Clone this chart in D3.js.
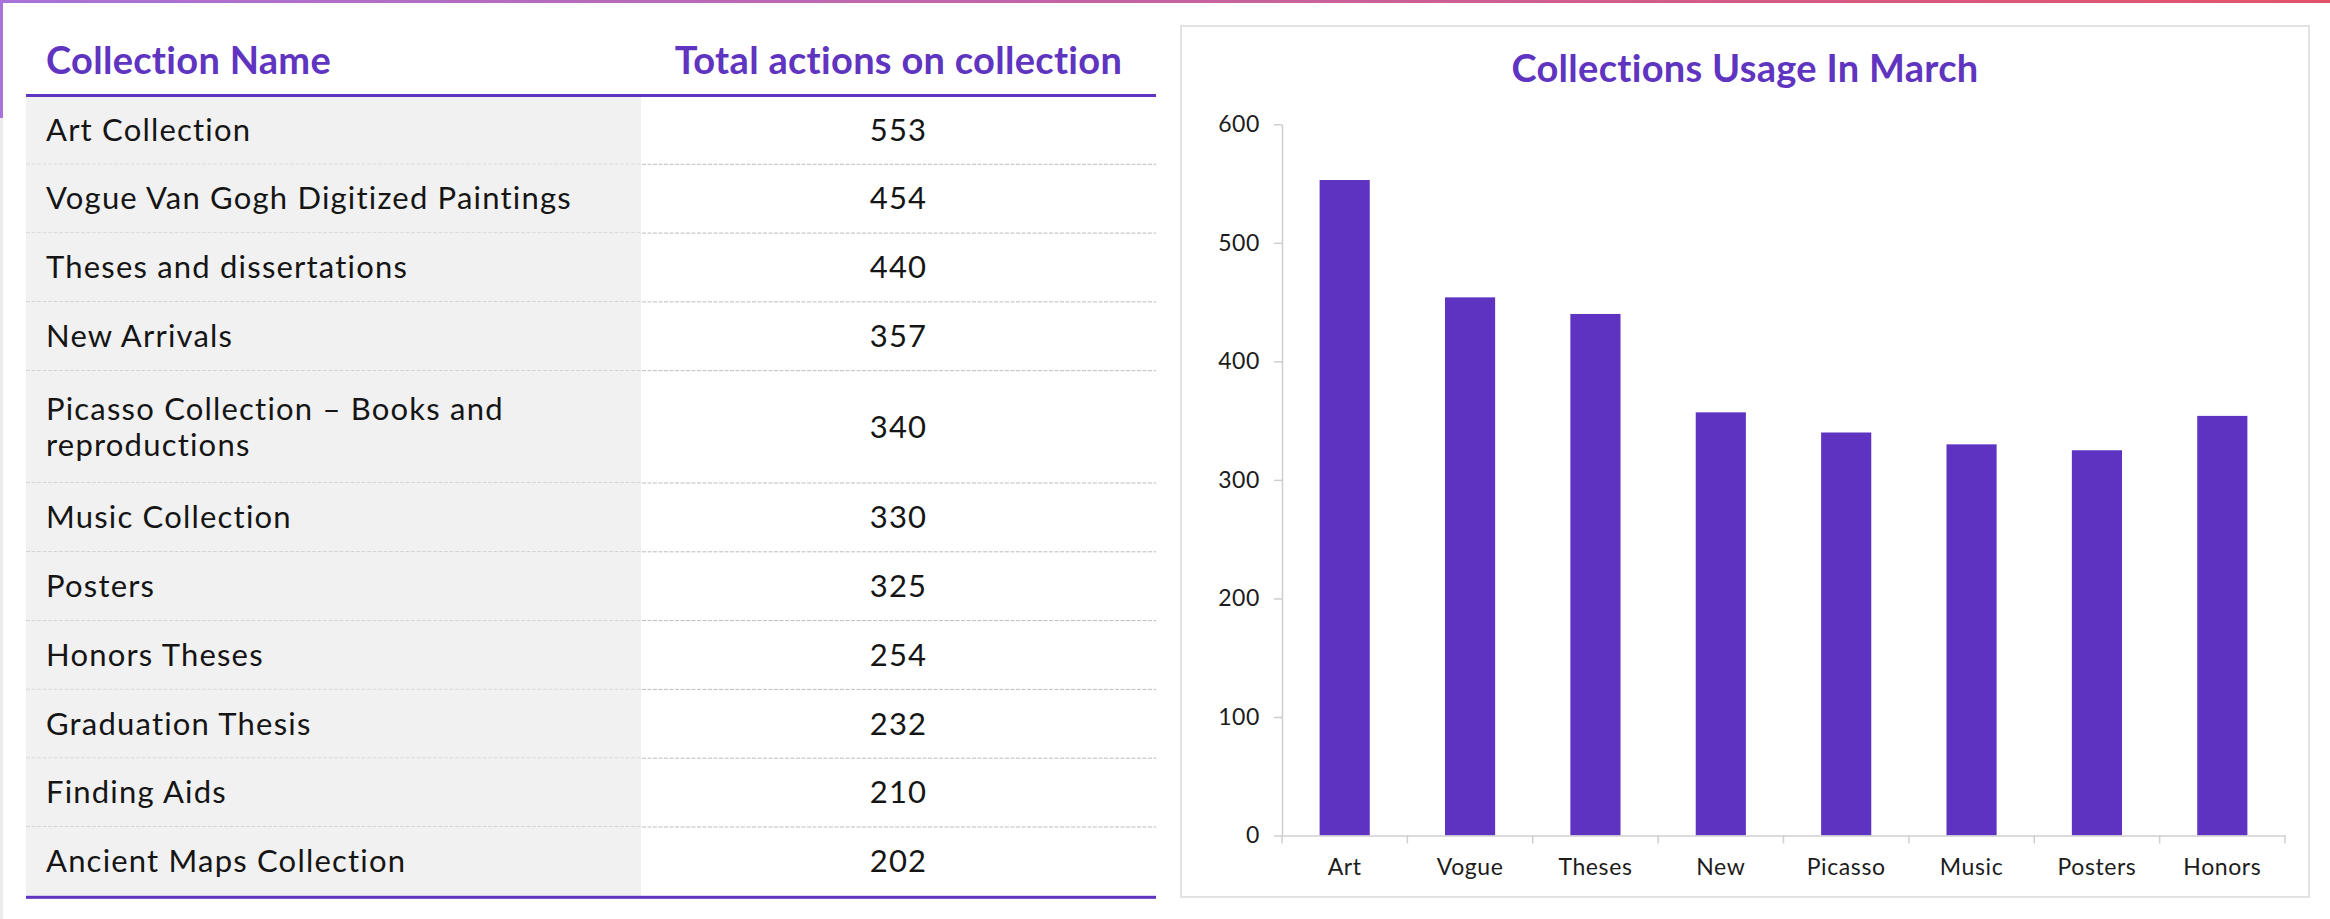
<!DOCTYPE html>
<html>
<head>
<meta charset="utf-8">
<title>Collections Usage In March</title>
<script src="https://cdn.jsdelivr.net/npm/d3@7"></script>
<style>
    body { margin: 0; background: #fff; overflow: hidden; }
    svg { display: block; font-family: Lato, "Noto Sans", sans-serif; font-variant-ligatures: none; }
    .head { fill: #5f34c0; font-weight: 700; font-size: 38px; letter-spacing: 0.3px; }
    .cell { fill: #151515; font-size: 31px; letter-spacing: 1.2px; }
    .chartTitle { fill: #5f34c0; font-weight: 700; font-size: 38px; letter-spacing: 0.3px; }
    .axis text { fill: #1c1c1c; font-size: 23px; letter-spacing: 0.6px; font-family: Lato, "Noto Sans", sans-serif; }
    .axis path, .axis line { stroke: #cfcfcf; stroke-width: 1.5; }
</style>
</head>
<body>
<script>
(function () {

    //table data
    var tableHeaders = ["Collection Name", "Total actions on collection"];
    var collectionNames = [
        "Art Collection",
        "Vogue Van Gogh Digitized Paintings",
        "Theses and dissertations",
        "New Arrivals",
        "Picasso Collection \u2013 Books and reproductions",
        "Music Collection",
        "Posters",
        "Honors Theses",
        "Graduation Thesis",
        "Finding Aids",
        "Ancient Maps Collection"
    ];
    var collectionActions = [553, 454, 440, 357, 340, 330, 325, 254, 232, 210, 202];

    //chart data
    var chartTitleText = "Collections Usage In March";
    var chartLabels = ["Art", "Vogue", "Theses", "New", "Picasso", "Music", "Posters", "Honors"];
    var chartValues = [553, 454, 440, 357, 340, 330, 325, 354];
    var yTickValues = [0, 100, 200, 300, 400, 500, 600];

    var purple = "#5f34c0";

    window.onload = setPage();

    function setPage() {
        var width = 2330,
            height = 919;

        var svg = d3.select("body")
            .append("svg")
            .attr("width", width)
            .attr("height", height);

        //gradient strip along the top
        var grad = svg.append("defs")
            .append("linearGradient")
            .attr("id", "topGrad")
            .attr("x1", "0%").attr("x2", "100%");
        grad.append("stop").attr("offset", "0%").attr("stop-color", "#a872d8");
        grad.append("stop").attr("offset", "100%").attr("stop-color", "#e2536a");

        //left card edge
        svg.append("rect").attr("x", 0).attr("y", 118).attr("width", 3).attr("height", height - 118).attr("fill", "#ebebeb");
        svg.append("rect").attr("x", 0).attr("y", 0).attr("width", 3).attr("height", 118).attr("fill", "#a872d8");
        svg.append("rect").attr("x", 0).attr("y", 0).attr("width", width).attr("height", 3).attr("fill", "url(#topGrad)");

        setTable(svg);
        setChart(svg);
    };

    //wrap a text element into tspans, returns the number of lines
    function wrapText(textEl, str, maxWidth, lineGap) {
        var words = str.split(" "),
            line = [],
            lines = 0,
            tspan = textEl.append("tspan").attr("x", textEl.attr("x")).attr("dy", 0);
        words.forEach(function (w) {
            line.push(w);
            tspan.text(line.join(" "));
            if (tspan.node().getComputedTextLength() > maxWidth && line.length > 1) {
                line.pop();
                tspan.text(line.join(" "));
                line = [w];
                lines++;
                tspan = textEl.append("tspan").attr("x", textEl.attr("x")).attr("dy", lineGap).text(w);
            }
        });
        return lines + 1;
    };

    function setTable(svg) {
        var left = 26,
            nameRight = 641,
            right = 1156,
            top = 95.5,
            textX = 46,
            numCenter = (nameRight + right) / 2,
            rowPad = 25.3,
            lineH = 43.5,
            lineGap = 36,
            fontSize = 30;

        var rowData = collectionNames.map(function (n, i) {
            return { name: n, value: collectionActions[i] };
        });

        var rows = svg.append("g")
            .attr("class", "rows")
            .selectAll(".row")
            .data(rowData)
            .enter()
            .append("g")
            .attr("class", "row");

        var bg = rows.append("rect")
            .attr("x", left)
            .attr("width", nameRight - left)
            .attr("fill", "#f1f1f1");

        var names = rows.append("text")
            .attr("class", "cell")
            .attr("x", textX);

        names.each(function (d) {
            d.lines = wrapText(d3.select(this), d.name, nameRight - textX - 20, lineGap);
        });

        //stack rows by their line count
        var y = top;
        rows.each(function (d) {
            d.y0 = y;
            d.h = rowPad + lineH * d.lines;
            y += d.h;
        });
        var bottom = y;

        rows.attr("transform", function (d) { return "translate(0," + d.y0 + ")"; });
        bg.attr("height", function (d) { return d.h; });

        names.attr("y", function (d) {
            return d.h / 2 - (d.lines - 1) * lineGap / 2 + fontSize * 0.36;
        });

        rows.append("text")
            .attr("class", "cell")
            .attr("x", numCenter)
            .attr("y", function (d) { return d.h / 2 + fontSize * 0.36; })
            .attr("text-anchor", "middle")
            .text(function (d) { return d.value; });

        //dashed separators
        rows.filter(function (d, i) { return i < rowData.length - 1; })
            .append("line")
            .attr("x1", left)
            .attr("x2", right)
            .attr("y1", function (d) { return d.h; })
            .attr("y2", function (d) { return d.h; })
            .attr("stroke", "#bdbdbd")
            .attr("stroke-width", 1)
            .attr("stroke-dasharray", "4,1.5");

        //headers
        svg.append("text")
            .attr("class", "head")
            .attr("x", textX)
            .attr("y", 74)
            .text(tableHeaders[0]);

        svg.append("text")
            .attr("class", "head")
            .attr("x", numCenter)
            .attr("y", 74)
            .attr("text-anchor", "middle")
            .text(tableHeaders[1]);

        svg.append("rect").attr("x", left).attr("y", 94).attr("width", right - left).attr("height", 3).attr("fill", purple);
        svg.append("rect").attr("x", left).attr("y", bottom).attr("width", right - left).attr("height", 3).attr("fill", purple);
    };

    function setChart(svg) {
        //card frame
        var cardX = 1181, cardY = 26, cardW = 1128, cardH = 871;
        svg.append("rect")
            .attr("x", cardX)
            .attr("y", cardY)
            .attr("width", cardW)
            .attr("height", cardH)
            .attr("fill", "#fff")
            .attr("stroke", "#e2e2e2")
            .attr("stroke-width", 2);

        svg.append("text")
            .attr("class", "chartTitle")
            .attr("x", cardX + cardW / 2)
            .attr("y", 82)
            .attr("text-anchor", "middle")
            .text(chartTitleText);

        var plotLeft = 1282,
            plotRight = 2285,
            plotTop = 124.3,
            plotBottom = 835.5;

        var xScale = d3.scaleBand()
            .domain(chartLabels)
            .range([plotLeft, plotRight])
            .paddingInner(0.6)
            .paddingOuter(0.3);

        var yScale = d3.scaleLinear()
            .domain([0, 600])
            .range([plotBottom, plotTop]);

        //bars
        svg.selectAll(".bar")
            .data(chartValues)
            .enter()
            .append("rect")
            .attr("class", "bar")
            .attr("x", function (d, i) { return xScale(chartLabels[i]); })
            .attr("width", xScale.bandwidth())
            .attr("y", function (d) { return yScale(d); })
            .attr("height", function (d) { return plotBottom - yScale(d); })
            .attr("fill", "#5e33c1");

        //y axis
        var yAxis = d3.axisLeft(yScale)
            .tickValues(yTickValues)
            .tickSize(8)
            .tickSizeOuter(0)
            .tickPadding(14);

        svg.append("g")
            .attr("class", "axis")
            .attr("transform", "translate(" + plotLeft + ",0)")
            .call(yAxis);

        //x axis, ticks between categories
        var xAxis = d3.axisBottom(xScale)
            .tickSize(0)
            .tickSizeOuter(0);

        var xg = svg.append("g")
            .attr("class", "axis")
            .attr("transform", "translate(0," + plotBottom + ")")
            .call(xAxis);

        xg.selectAll(".tick text")
            .attr("y", 39.5)
            .attr("dy", 0);

        var bounds = chartLabels.map(function (c) {
            return xScale(c) + xScale.bandwidth() / 2 - xScale.step() / 2;
        });
        bounds.push(plotRight);

        xg.selectAll(".bound")
            .data(bounds)
            .enter()
            .append("line")
            .attr("class", "bound")
            .attr("x1", function (d) { return d; })
            .attr("x2", function (d) { return d; })
            .attr("y1", 0)
            .attr("y2", 8);
    };
})();
</script>
</body>
</html>
